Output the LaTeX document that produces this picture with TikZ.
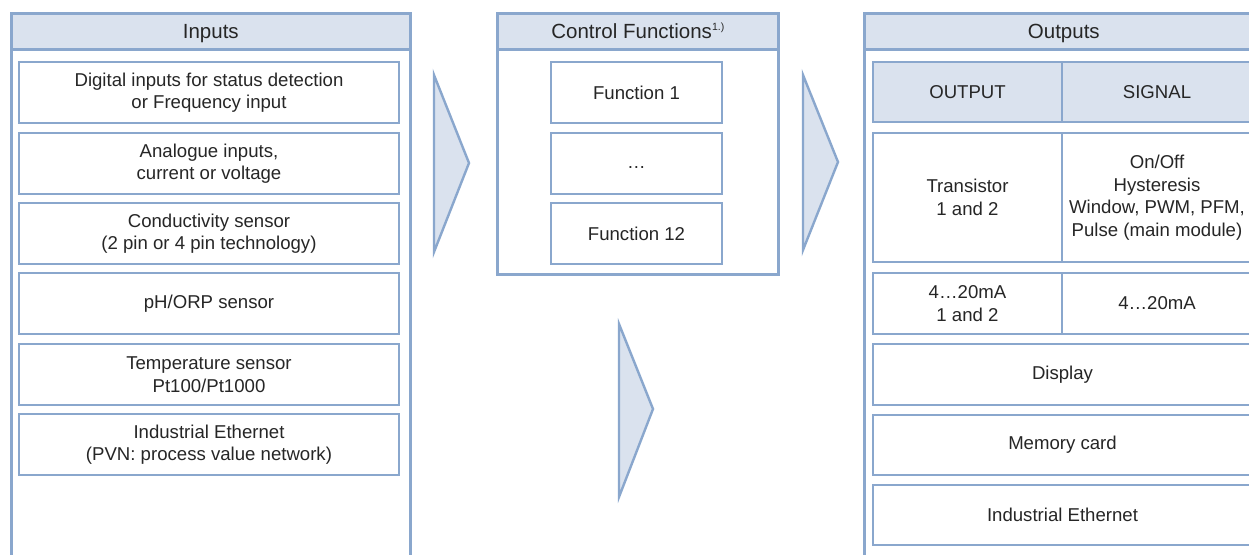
\documentclass[tikz,border=0pt]{standalone}
\usepackage{fontspec}
\setmainfont{Liberation Sans}
\definecolor{frameblue}{HTML}{8AA7CD}
\definecolor{headfill}{HTML}{DAE2EE}
\definecolor{txt}{HTML}{262626}
\begin{document}
\begin{tikzpicture}[x=1pt,y=-1pt,
  frame/.style={draw=frameblue, line width=2.6pt, fill=white, inner sep=0pt, anchor=north west},
  head/.style={draw=frameblue, line width=2.6pt, fill=headfill, inner sep=0pt, anchor=north west, text=txt, text height=15pt, text depth=1.5pt, font=\fontsize{20.5}{24}\selectfont},
  cell/.style={draw=frameblue, line width=2.4pt, fill=white, inner sep=0pt, align=center, text=txt, font=\fontsize{18.6}{22.5}\selectfont},
  hcell/.style={cell, fill=headfill},
  chevron/.style={draw=frameblue, line width=2.4pt, fill=headfill, line join=miter}]
\useasboundingbox (0,0) rectangle (1249,554);
\clip (0,0) rectangle (1249,554);
% Inputs
\node[frame, minimum width=399pt, minimum height=600pt] (inframe) at (10,12) {};
\node[head, minimum width=399pt, minimum height=36pt] (inhead) at (10,12) {Inputs};
\node[cell, minimum width=380pt, minimum height=61pt] (in1) at (209,92.5) {Digital inputs for status detection\\or Frequency input};
\node[cell, minimum width=380pt, minimum height=61pt] (in2) at (209,163.5) {Analogue inputs,\\current or voltage};
\node[cell, minimum width=380pt, minimum height=61pt] (in3) at (209,233.5) {Conductivity sensor\\(2 pin or 4 pin technology)};
\node[cell, minimum width=380pt, minimum height=61pt] (in4) at (209,303.5) {pH/ORP sensor};
\node[cell, minimum width=380pt, minimum height=61pt] (in5) at (209,374.5) {Temperature sensor\\Pt100/Pt1000};
\node[cell, minimum width=380pt, minimum height=61pt] (in6) at (209,444.5) {Industrial Ethernet\\(PVN: process value network)};
% Control functions
\node[frame, minimum width=281pt, minimum height=261pt] (cfframe) at (496,12) {};
\node[head, minimum width=281pt, minimum height=36pt] (cfhead) at (496,12) {Control Functions\raisebox{7.5pt}{\fontsize{10.5}{10.5}\selectfont 1.)}};
\node[cell, minimum width=171pt, minimum height=61pt] (f1) at (636.5,92.5) {Function 1};
\node[cell, minimum width=171pt, minimum height=61pt, text height=13pt, text depth=4pt] (f2) at (636.5,163.5) {…};
\node[cell, minimum width=171pt, minimum height=61pt] (f12) at (636.5,233.5) {Function 12};
% Outputs
\node[frame, minimum width=399pt, minimum height=600pt] (outframe) at (863,12) {};
\node[head, minimum width=399pt, minimum height=36pt] (outhead) at (863,12) {Outputs};
\node[hcell, minimum width=189pt, minimum height=60pt] (oh1) at (967.5,92) {OUTPUT};
\node[hcell, minimum width=190pt, minimum height=60pt] (oh2) at (1157,92) {SIGNAL};
\node[cell, minimum width=189pt, minimum height=129pt] (o1a) at (967.5,197.5) {Transistor\\1 and 2};
\node[cell, minimum width=190pt, minimum height=129pt] (o1b) at (1157,197.5) {On/Off\\Hysteresis\\Window, PWM, PFM,\\Pulse (main module)};
\node[cell, minimum width=189pt, minimum height=61pt] (o2a) at (967.5,303.5) {4…20mA\\1 and 2};
\node[cell, minimum width=190pt, minimum height=61pt] (o2b) at (1157,303.5) {4…20mA};
\node[cell, minimum width=379pt, minimum height=61pt] (o3) at (1062.5,374.5) {Display};
\node[cell, minimum width=379pt, minimum height=60pt] (o4) at (1062.5,445) {Memory card};
\node[cell, minimum width=379pt, minimum height=60pt] (o5) at (1062.5,515) {Industrial Ethernet};
% Chevrons
\draw[chevron] (434,75) -- (469,163) -- (434,252) -- cycle;
\draw[chevron] (619,324) -- (653,409) -- (619,497) -- cycle;
\draw[chevron] (803,75) -- (838,162) -- (803,250) -- cycle;
\end{tikzpicture}
\end{document}
